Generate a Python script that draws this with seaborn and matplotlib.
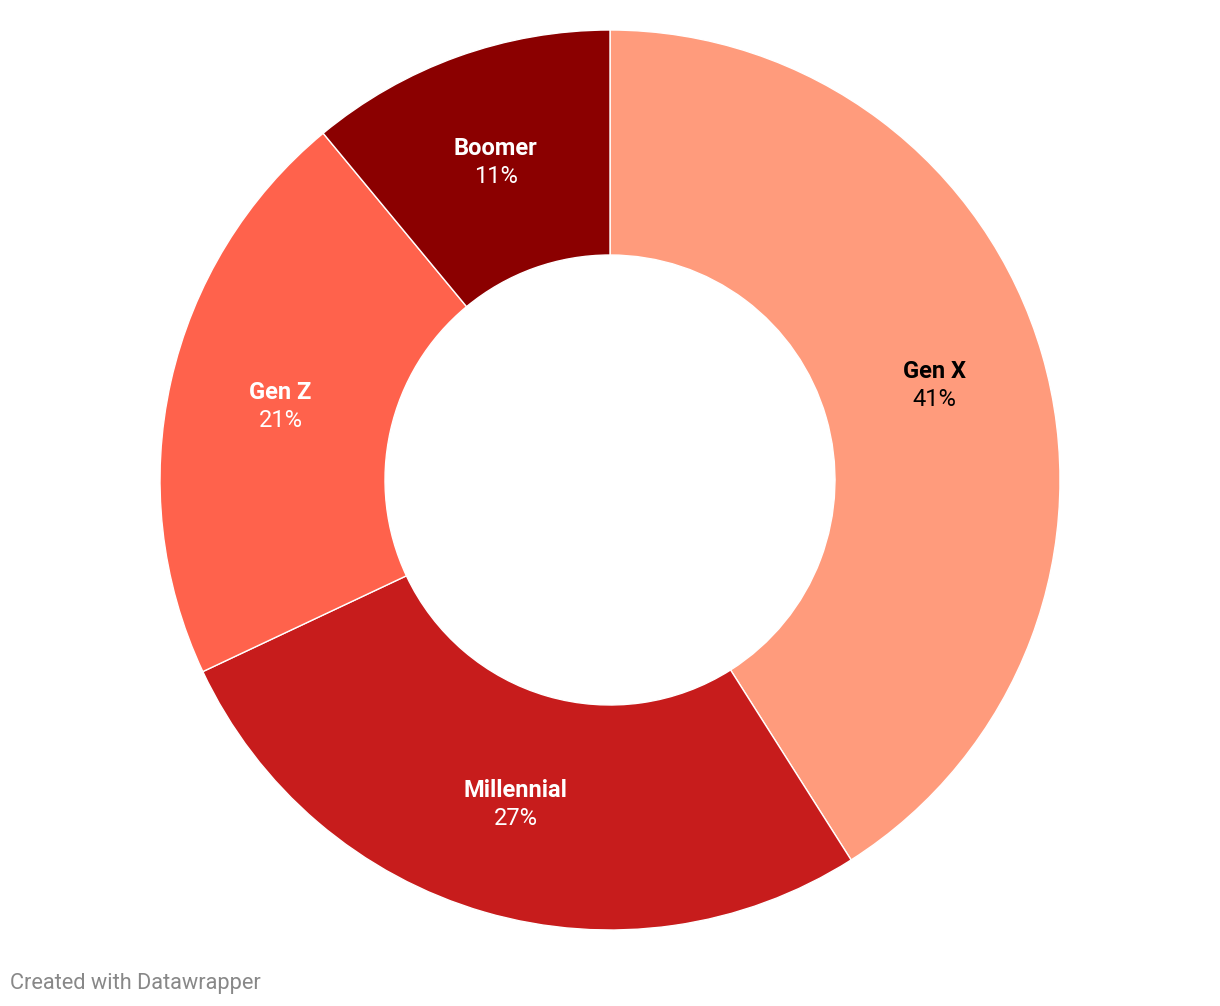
import numpy as np
import matplotlib
matplotlib.use("Agg")
import matplotlib.pyplot as plt
import seaborn as sns

sns.set_style('white')
plt.rcParams['font.family'] = ['Roboto', 'DejaVu Sans']

# data
groups = ['Gen X', 'Millennial', 'Gen Z', 'Boomer']
shares = [41, 27, 21, 11]
colors = ['#FF9B7C', '#C71C1C', '#FF624C', '#8B0000']
text_colors = ['black', 'white', 'white', 'white']

fig = plt.figure(figsize=(12.2, 10.06), dpi=100)
ax = fig.add_axes([0, 0, 1, 1])

cx, cy = 610, 526
R, w = 450, 225
wedges, _ = ax.pie(shares, colors=colors, startangle=90, counterclock=False,
                   center=(cx, cy), radius=R, frame=True,
                   wedgeprops=dict(width=w, edgecolor='white', linewidth=1))
ax.set_xlim(0, 1220)
ax.set_ylim(0, 1006)
ax.set_aspect('equal')
ax.axis('off')

# labels in the middle of each ring segment
for wd, g, s, tc in zip(wedges, groups, shares, text_colors):
    ang = np.deg2rad((wd.theta1 + wd.theta2) / 2)
    r = R - w / 2
    x = cx + r * np.cos(ang)
    y = cy + r * np.sin(ang)
    ax.text(x, y + 14, g, ha='center', va='center', fontsize=17,
            fontweight='bold', color=tc)
    ax.text(x, y - 14, f'{s}%', ha='center', va='center', fontsize=17,
            color=tc)

fig.text(10 / 1220, 1 - 983 / 1006, 'Created with Datawrapper', ha='left',
         va='center', fontsize=15.7, color='#888888')

fig.savefig('out.png', dpi=100)
